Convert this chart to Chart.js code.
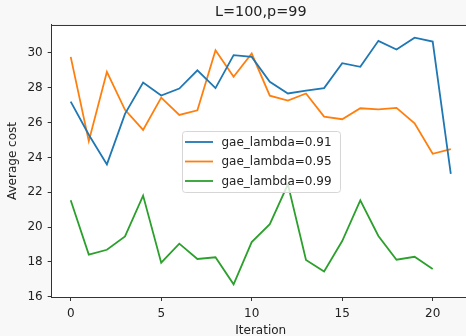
<!DOCTYPE html>
<html>
<head>
<meta charset="utf-8">
<script src="https://cdn.jsdelivr.net/npm/chart.js@4/dist/chart.umd.min.js"></script>
<style>
  html, body { margin: 0; padding: 0; background: #f8f8f8; overflow: hidden; }
  #wrap { width: 466px; height: 336px; overflow: hidden; position: relative; }
  canvas { display: block; }
</style>
</head>
<body>
<div id="wrap"><canvas id="c" width="472" height="336"></canvas></div>
<script>
const titleText = 'L=100,p=99';
const xLabel = 'Iteration';
const yLabel = 'Average cost';
const iterations = [0,1,2,3,4,5,6,7,8,9,10,11,12,13,14,15,16,17,18,19,20,21];
const seriesNames = ['gae_lambda=0.91', 'gae_lambda=0.95', 'gae_lambda=0.99'];
const lambda091 = [27.2, 25.3, 23.6, 26.5, 28.3, 27.55, 27.95, 29.0, 27.98, 29.87, 29.77, 28.34, 27.67, 27.83, 27.98, 29.41, 29.2, 30.69, 30.19, 30.87, 30.65, 23.05];
const lambda095 = [29.77, 24.93, 28.91, 26.73, 25.58, 27.43, 26.44, 26.7, 30.15, 28.63, 29.96, 27.54, 27.26, 27.67, 26.34, 26.19, 26.82, 26.76, 26.84, 25.96, 24.21, 24.47];
const lambda099 = [21.54, 18.42, 18.7, 19.47, 21.81, 17.96, 19.05, 18.17, 18.27, 16.72, 19.14, 20.17, 22.46, 18.11, 17.45, 19.2, 21.54, 19.49, 18.13, 18.3, 17.6];
const xTicks = [0, 5, 10, 15, 20];
const yTicks = [16, 18, 20, 22, 24, 26, 28, 30];
const colors = ['#1f77b4', '#ff7f0e', '#2ca02c'];

const FONT = 'DejaVu Sans';
const toPts = (vals) => vals.map((v, i) => ({ x: iterations[i], y: v }));
const allSeries = [lambda091, lambda095, lambda099];

const datasets = allSeries.map((vals, i) => ({
  label: seriesNames[i],
  data: toPts(vals),
  borderColor: colors[i],
  backgroundColor: colors[i],
  borderWidth: 1.8,
  pointRadius: 0,
  pointHoverRadius: 0,
  tension: 0,
  fill: false
}));

const framePlugin = {
  id: 'frame',
  beforeDraw(chart) {
    const { ctx, chartArea: a } = chart;
    ctx.save();
    ctx.fillStyle = '#f8f8f8';
    ctx.fillRect(0, 0, chart.width, chart.height);
    ctx.fillStyle = '#ffffff';
    ctx.fillRect(a.left, a.top, a.right - a.left, a.bottom - a.top);
    ctx.restore();
  },
  afterDraw(chart) {
    const { ctx, chartArea: a } = chart;
    ctx.save();
    ctx.strokeStyle = '#333333';
    ctx.lineWidth = 1;
    ctx.beginPath();
    ctx.moveTo(a.left, a.top + 0.5);
    ctx.lineTo(a.right, a.top + 0.5);
    ctx.moveTo(a.right - 0.5, a.top);
    ctx.lineTo(a.right - 0.5, a.bottom);
    ctx.stroke();

    // legend box (matplotlib-like, floating inside axes)
    const bx = 182.5, by = 131.5, bw = 158, bh = 61;
    const r = 3;
    ctx.beginPath();
    ctx.moveTo(bx + r, by);
    ctx.lineTo(bx + bw - r, by);
    ctx.quadraticCurveTo(bx + bw, by, bx + bw, by + r);
    ctx.lineTo(bx + bw, by + bh - r);
    ctx.quadraticCurveTo(bx + bw, by + bh, bx + bw - r, by + bh);
    ctx.lineTo(bx + r, by + bh);
    ctx.quadraticCurveTo(bx, by + bh, bx, by + bh - r);
    ctx.lineTo(bx, by + r);
    ctx.quadraticCurveTo(bx, by, bx + r, by);
    ctx.closePath();
    ctx.fillStyle = 'rgba(255,255,255,0.8)';
    ctx.fill();
    ctx.strokeStyle = '#d6d6d6';
    ctx.lineWidth = 1;
    ctx.stroke();

    ctx.font = '12px "' + FONT + '"';
    ctx.textBaseline = 'middle';
    ctx.textAlign = 'left';
    chart.data.datasets.forEach((ds, i) => {
      const yy = 142 + i * 19.5;
      ctx.strokeStyle = ds.borderColor;
      ctx.lineWidth = 1.8;
      ctx.beginPath();
      ctx.moveTo(185, yy);
      ctx.lineTo(213, yy);
      ctx.stroke();
      ctx.fillStyle = '#222222';
      ctx.fillText(ds.label, 221.5, yy + 0.5);
    });
    ctx.restore();
  }
};

new Chart(document.getElementById('c'), {
  type: 'line',
  data: { datasets },
  plugins: [framePlugin],
  options: {
    responsive: false,
    animation: false,
    layout: { padding: { left: 0, right: 2.2, top: 0, bottom: 0 } },
    plugins: {
      legend: { display: false },
      tooltip: { enabled: false },
      title: {
        display: true,
        text: titleText,
        fullSize: false,
        color: '#222222',
        font: { family: FONT, size: 14.4, weight: 'normal', lineHeight: 1.2 },
        padding: { top: 4, bottom: 3.7 }
      }
    },
    scales: {
      x: {
        type: 'linear',
        min: -1.05,
        max: 22.05,
        afterBuildTicks: (s) => { s.ticks = xTicks.map(v => ({ value: v })); },
        afterFit: (s) => { s.height = 39; },
        grid: { display: true, drawOnChartArea: false, drawTicks: true, tickLength: 4, color: '#333333', lineWidth: 1 },
        border: { display: true, color: '#333333', width: 1 },
        ticks: { color: '#222222', font: { family: FONT, size: 12 }, padding: 6, maxRotation: 0, autoSkip: false },
        title: { display: true, text: xLabel, color: '#222222', font: { family: FONT, size: 12 }, padding: { top: 0, bottom: -2 } }
      },
      y: {
        type: 'linear',
        min: 15.99,
        max: 31.6,
        afterBuildTicks: (s) => { s.ticks = yTicks.map(v => ({ value: v })); },
        afterFit: (s) => { s.width = 51.7; },
        grid: { display: true, drawOnChartArea: false, drawTicks: true, tickLength: 4, color: '#333333', lineWidth: 1 },
        border: { display: true, color: '#333333', width: 1 },
        ticks: { color: '#222222', font: { family: FONT, size: 12 }, padding: 5, autoSkip: false },
        title: { display: true, text: yLabel, color: '#222222', font: { family: FONT, size: 12 }, padding: { top: 5.8, bottom: 0 } }
      }
    }
  }
});
</script>
</body>
</html>
